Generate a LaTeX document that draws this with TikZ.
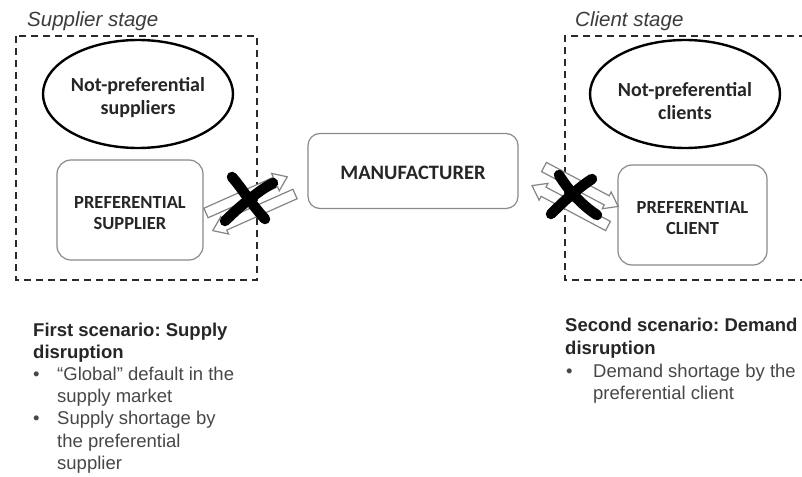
\documentclass[tikz,border=0pt]{standalone}
\usepackage{fontspec}
\setmainfont{Liberation Sans}
\newfontfamily\boxfont{Carlito}
\usetikzlibrary{shapes.geometric}
\frenchspacing
\definecolor{txt}{HTML}{262626}
\definecolor{boxline}{HTML}{8A8A8A}
\definecolor{dashc}{HTML}{2A2A2A}
\definecolor{arrline}{HTML}{858585}
\tikzset{
  stagebox/.style={draw=dashc, line width=1.8pt, dash pattern=on 7pt off 5pt},
  stagelabel/.style={anchor=base west, inner sep=0pt, text=txt!90, font=\fontsize{20.5}{24}\selectfont\itshape},
  ellnode/.style={ellipse, draw=black, line width=2.4pt, inner sep=0pt,
                  minimum width=190pt, minimum height=108pt},
  elltext/.style={inner sep=0pt, align=center, text=txt, font=\boxfont\bfseries\fontsize{20}{23}\selectfont},
  rbox/.style={rectangle, draw=boxline, line width=1.2pt, rounded corners=14pt, inner sep=0pt},
  boxtext/.style={inner sep=0pt, align=center, text=txt, font=\boxfont\bfseries\fontsize{18.5}{21}\selectfont},
  hollowarr/.style={draw=arrline, fill=white, line width=1.2pt, line join=miter},
  xmark/.style={draw=black, line width=10.5pt, line cap=round},
  titleline/.style={anchor=base west, inner sep=0pt, text=txt, font=\fontsize{18.5}{22}\selectfont\bfseries},
  bodyline/.style={anchor=base west, inner sep=0pt, text=txt!85, font=\fontsize{18.5}{22}\selectfont},
}
\newcommand{\hollowarrow}[3]{%
  \begin{scope}[shift={#1}, rotate=#2]
    \draw[hollowarr] (0,-5.2) -- ({#3-13},-5.2) -- ({#3-13},-9.5) -- (#3,0)
      -- ({#3-13},9.5) -- ({#3-13},5.2) -- (0,5.2) -- cycle;
  \end{scope}}
\begin{document}
\begin{tikzpicture}[x=1pt,y=-1pt]
\useasboundingbox (0,0) rectangle (802,476);
\clip (0,0) rectangle (802,476);
\fill[white] (0,0) rectangle (802,476);

% stage labels
\node[stagelabel] (supstage) at (27,27) {Supplier stage};
\node[stagelabel] (clistage) at (575,27) {Client stage};

% dashed stage boxes
\draw[stagebox] (16,36) rectangle (257,280);
\draw[stagebox] (806,36) -- (565,36) -- (565,280) -- (806,280);

% ellipses
\node[ellnode] (nps) at (138,94) {};
\node[elltext] (npst) at ([yshift=-4pt]nps.center) {Not-preferential\\suppliers};
\node[ellnode] (npc) at (685,94) {};
\node[elltext] (npct) at ([yshift=-7pt]npc.center) {Not-preferential\\clients};

% boxes
\node[rbox, minimum width=146pt, minimum height=100pt] (ps) at (130,210) {};
\node[boxtext] (pst) at ([yshift=-3pt]ps.center) {PREFERENTIAL\\SUPPLIER};
\node[rbox, minimum width=210pt, minimum height=75pt, rounded corners=12pt] (man) at (413,171) {};
\node[boxtext, font=\boxfont\bfseries\fontsize{20.5}{24}\selectfont] (mant) at ([yshift=-1.5pt]man.center) {MANUFACTURER};
\node[rbox, minimum width=149pt, minimum height=100pt] (pc) at (692.5,215) {};
\node[boxtext] (pct) at ([yshift=-3pt]pc.center) {PREFERENTIAL\\CLIENT};

% hollow arrows, supplier side
\hollowarrow{(206,213)}{24}{89}
\hollowarrow{(295,194)}{204}{90}
% hollow arrows, client side
\hollowarrow{(544,167)}{-28}{84}
\hollowarrow{(608,226)}{152}{86}

% crosses
\draw[xmark] (232,177) .. controls (241,187) and (252,205) .. (265,219);
\draw[xmark] (273,183) .. controls (258,191) and (239,207) .. (225,221);
\draw[xmark] (559,175) .. controls (567,188) and (580,204) .. (597,215);
\draw[xmark] (592,179) .. controls (578,188) and (563,202) .. (551,214);

% first scenario
\node[titleline] (f1) at (33,336) {First scenario: Supply};
\node[titleline] (f2) at (33,358.2) {disruption};
\node[bodyline] (fb1) at (33,380.4) {•};
\node[bodyline] (f3) at (57,380.4) {“Global” default in the};
\node[bodyline] (f4) at (57,402.6) {supply market};
\node[bodyline] (fb2) at (33,424.8) {•};
\node[bodyline] (f5) at (57,424.8) {Supply shortage by};
\node[bodyline] (f6) at (57,447) {the preferential};
\node[bodyline] (f7) at (57,469.2) {supplier};

% second scenario
\node[titleline] (s1) at (565,331.5) {Second scenario: Demand};
\node[titleline] (s2) at (565,354) {disruption};
\node[bodyline] (sb1) at (566,377) {•};
\node[bodyline] (s3) at (593,377) {Demand shortage by the};
\node[bodyline] (s4) at (593,399.5) {preferential client};
\end{tikzpicture}
\end{document}
